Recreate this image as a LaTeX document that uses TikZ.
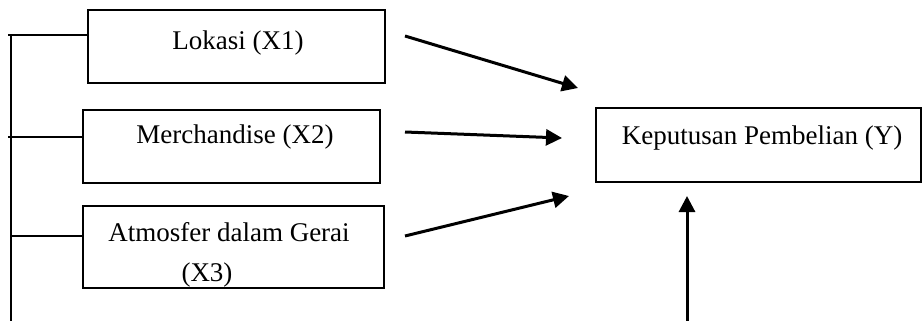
\documentclass[tikz,border=0pt]{standalone}
\usepackage{fontspec}
\setmainfont{Liberation Serif}
\usetikzlibrary{arrows.meta}
\begin{document}
\begin{tikzpicture}[x=1pt,y=-1pt,
  box/.style={draw,line width=2.8pt,inner sep=0pt,outer sep=0pt},
  lbl/.style={inner sep=0pt,font=\fontsize{27}{30}\selectfont},
  conn/.style={line width=2.8pt},
  arr/.style={line width=3pt,-{Triangle[length=16pt,width=16pt]}}]
\useasboundingbox (0,0) rectangle (923,321);
% boxes
\node[box,minimum width=297pt,minimum height=73pt] (b1) at (236.5,46.5) {};
\node[box,minimum width=297pt,minimum height=73pt] (b2) at (231.5,146.5) {};
\node[box,minimum width=301pt,minimum height=82pt] (b3) at (233.5,247) {};
\node[box,minimum width=325pt,minimum height=74pt] (y) at (758.5,145) {};
% texts
\node[lbl] (t1) at (238,43) {Lokasi (X1)};
\node[lbl] (t2) at (235,137) {Merchandise (X2)};
\node[lbl] (t3a) at (229,232) {Atmosfer dalam Gerai};
\node[lbl] (t3b) at (207,275) {(X3)};
\node[lbl] (ty) at (762,138) {Keputusan Pembelian (Y)};
% left bracket
\coordinate (vtop) at (11,35);
\coordinate (vbot) at (11,321);
\coordinate (h1) at (8,35);
\coordinate (h2) at (8,137);
\coordinate (h3) at (10,236);
\draw[conn] (vtop) -- (vbot);
\draw[conn] (h1) -- (h1 -| b1.west);
\draw[conn] (h2) -- (h2 -| b2.west);
\draw[conn] (h3) -- (h3 -| b3.west);
% arrows
\coordinate (a1s) at (405,36);
\coordinate (a1e) at (578,88);
\coordinate (a2s) at (405,132);
\coordinate (a2e) at (562,138);
\coordinate (a3s) at (405,236);
\coordinate (a3e) at (569,196);
\coordinate (a4s) at (687,321);
\coordinate (a4e) at (687,196);
\draw[arr] (a1s) -- (a1e);
\draw[arr] (a2s) -- (a2e);
\draw[arr] (a3s) -- (a3e);
\draw[arr] (a4s) -- (a4e);
\end{tikzpicture}
\end{document}
